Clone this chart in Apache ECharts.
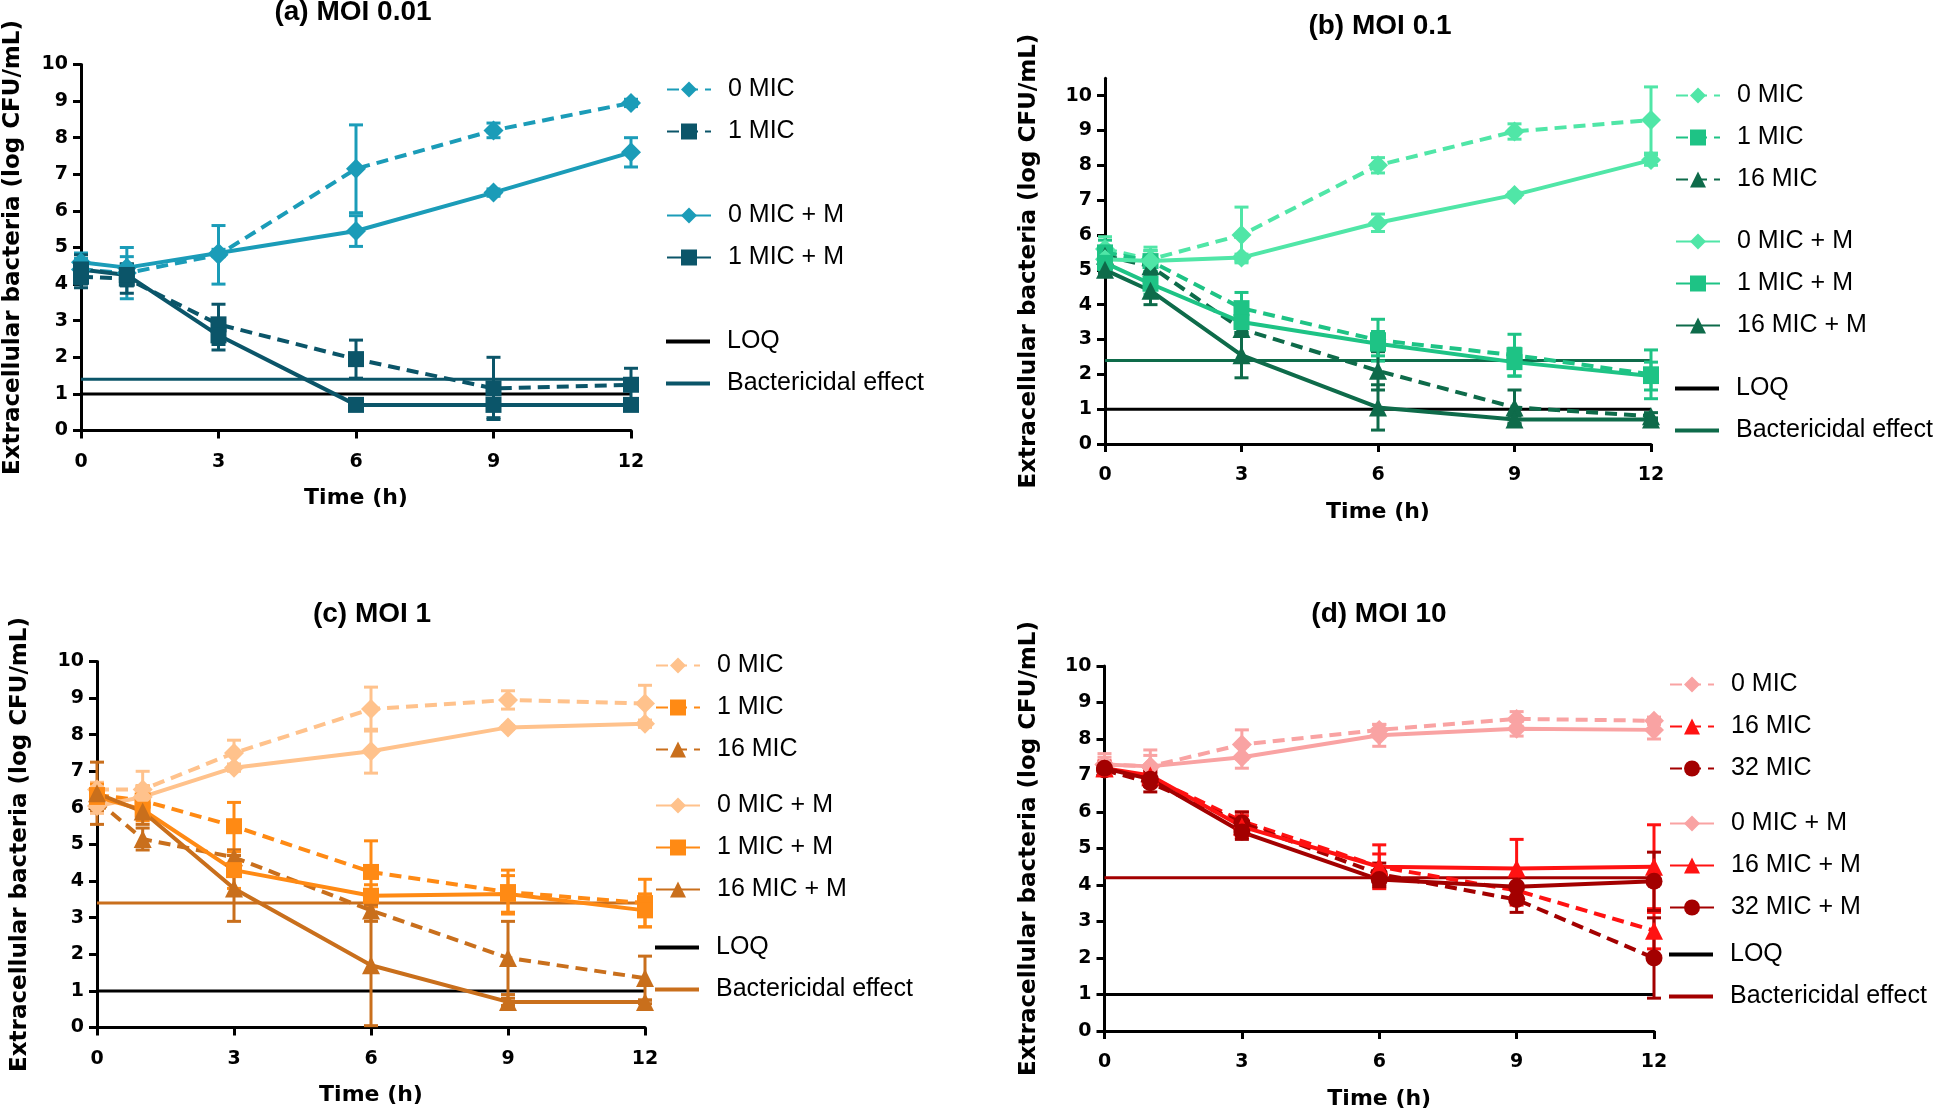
<!DOCTYPE html>
<html>
<head>
<meta charset="utf-8">
<script src="https://cdn.jsdelivr.net/npm/echarts@6/dist/echarts.min.js"></script>
<style>
html,body{margin:0;padding:0;background:#fff;}
#chart{width:1946px;height:1111px;}
</style>
</head>
<body>
<div id="chart"></div>
<script>
// ---------- shared axes ----------
const TIME = [0, 1, 3, 6, 9, 12];
const X_TICKS = [0, 3, 6, 9, 12];
const Y_TICKS = [0, 1, 2, 3, 4, 5, 6, 7, 8, 9, 10];
const LOQ = 1;

// ---------- (a) MOI 0.01 ----------
const A_0MIC      = [4.4, 4.3, 4.8, 7.15, 8.2, 8.95];
const A_0MIC_SD   = [0.3, 0.7, 0.8, 1.2, 0.2, 0.1];
const A_1MIC      = [4.2, 4.15, 2.9, 1.95, 1.15, 1.25];
const A_1MIC_SD   = [0.3, 0.4, 0.55, 0.52, 0.85, 0.45];
const A_0MIC_M    = [4.6, 4.45, 4.85, 5.45, 6.5, 7.6];
const A_0MIC_M_SD = [0.25, 0.3, 0.1, 0.42, 0.1, 0.4];
const A_1MIC_M    = [4.4, 4.25, 2.6, 0.7, 0.7, 0.7];
const A_1MIC_M_SD = [0.4, 0.3, 0.4, 0.0, 0.35, 0.0];
const A_BACT = 1.4;

// ---------- (b) MOI 0.1 ----------
const B_0MIC       = [5.6, 5.3, 6.0, 8.0, 8.97, 9.3];
const B_0MIC_SD    = [0.35, 0.35, 0.8, 0.22, 0.22, 0.95];
const B_1MIC       = [5.5, 5.25, 3.9, 2.98, 2.55, 2.0];
const B_1MIC_SD    = [0.35, 0.3, 0.45, 0.6, 0.6, 0.7];
const B_16MIC      = [5.4, 5.1, 3.3, 2.1, 1.05, 0.8];
const B_16MIC_SD   = [0.2, 0.3, 0.2, 0.55, 0.5, 0.1];
const B_0MIC_M     = [5.3, 5.25, 5.35, 6.35, 7.15, 8.15];
const B_0MIC_M_SD  = [0.3, 0.3, 0.1, 0.25, 0.08, 0.15];
const B_1MIC_M     = [5.2, 4.6, 3.5, 2.88, 2.35, 1.95];
const B_1MIC_M_SD  = [0.2, 0.3, 0.3, 0.35, 0.4, 0.4];
const B_16MIC_M    = [5.0, 4.4, 2.55, 1.05, 0.7, 0.7];
const B_16MIC_M_SD = [0.1, 0.4, 0.65, 0.65, 0.1, 0.05];
const B_BACT = 2.4;

// ---------- (c) MOI 1 ----------
const C_0MIC       = [6.5, 6.5, 7.5, 8.7, 8.95, 8.85];
const C_0MIC_SD    = [0.2, 0.5, 0.35, 0.6, 0.25, 0.5];
const C_1MIC       = [6.35, 6.2, 5.5, 4.25, 3.7, 3.4];
const C_1MIC_SD    = [0.3, 0.4, 0.65, 0.85, 0.6, 0.65];
const C_16MIC      = [6.2, 5.15, 4.65, 3.2, 1.9, 1.35];
const C_16MIC_SD   = [0.3, 0.3, 0.2, 0.3, 1.0, 0.6];
const C_0MIC_M     = [6.05, 6.3, 7.1, 7.55, 8.2, 8.3];
const C_0MIC_M_SD  = [0.2, 0.3, 0.1, 0.6, 0.05, 0.1];
const C_1MIC_M     = [6.3, 5.95, 4.3, 3.6, 3.65, 3.2];
const C_1MIC_M_SD  = [0.2, 0.3, 0.5, 0.3, 0.5, 0.45];
const C_16MIC_M    = [6.4, 5.9, 3.8, 1.7, 0.7, 0.7];
const C_16MIC_M_SD = [0.85, 0.35, 0.9, 1.65, 0.1, 0.05];
const C_BACT = 3.4;

// ---------- (d) MOI 10 ----------
const D_0MIC       = [7.3, 7.25, 7.85, 8.25, 8.55, 8.5];
const D_0MIC_SD    = [0.3, 0.45, 0.4, 0.15, 0.2, 0.1];
const D_16MIC      = [7.2, 6.95, 5.75, 4.5, 3.85, 2.75];
const D_16MIC_SD   = [0.2, 0.2, 0.25, 0.35, 0.4, 0.5];
const D_32MIC      = [7.15, 6.8, 5.7, 4.3, 3.6, 2.0];
const D_32MIC_SD   = [0.15, 0.25, 0.3, 0.3, 0.35, 1.1];
const D_0MIC_M     = [7.3, 7.25, 7.5, 8.1, 8.28, 8.25];
const D_0MIC_M_SD  = [0.2, 0.3, 0.3, 0.3, 0.2, 0.25];
const D_16MIC_M    = [7.2, 7.0, 5.6, 4.5, 4.45, 4.5];
const D_16MIC_M_SD = [0.15, 0.2, 0.3, 0.6, 0.8, 1.15];
const D_32MIC_M    = [7.2, 6.9, 5.45, 4.15, 3.95, 4.1];
const D_32MIC_M_SD = [0.1, 0.2, 0.2, 0.2, 0.3, 0.8];
const D_BACT = 4.2;

// ---------- styling / layout ----------
const BOLD_FONT = 'DejaVu Sans';
const TEXT_FONT = 'Liberation Sans';
const LINE_ICON = 'path://M0,0H44V4H0Z';

const COL = {
  aL: '#1b9cb8', aD: '#0b5569',
  bL: '#50e6a7', bM: '#1ec385', bD: '#0e6b4a',
  cL: '#ffc28c', cM: '#ff8a14', cD: '#c96f1c',
  dL: '#f9a3a3', dM: '#ff1212', dD: '#a30000'
};

const PANELS = [
  { key: 'a', title: '(a) MOI 0.01', tx: 353, ty: 12,
    grid: { left: 81, top: 64.5, width: 550, height: 366 }, ymax: 10, nameGapY: 56,
    bact: A_BACT, bactColor: COL.aD,
    legendLeft: 666, legendTops: [77, 203, 329],
    groups: [
      [ { n: '0 MIC', y: A_0MIC, sd: A_0MIC_SD, c: COL.aL, dash: true, s: 'diamond' },
        { n: '1 MIC', y: A_1MIC, sd: A_1MIC_SD, c: COL.aD, dash: true, s: 'rect' } ],
      [ { n: '0 MIC + M', y: A_0MIC_M, sd: A_0MIC_M_SD, c: COL.aL, dash: false, s: 'diamond' },
        { n: '1 MIC + M', y: A_1MIC_M, sd: A_1MIC_M_SD, c: COL.aD, dash: false, s: 'rect' } ]
    ] },
  { key: 'b', title: '(b) MOI 0.1', tx: 1380, ty: 26,
    grid: { left: 1105, top: 78.2, width: 546, height: 365.8 }, ymax: 10.5, nameGapY: 64,
    bact: B_BACT, bactColor: COL.bD,
    legendLeft: 1675, legendTops: [83, 229, 376],
    groups: [
      [ { n: '0 MIC', y: B_0MIC, sd: B_0MIC_SD, c: COL.bL, dash: true, s: 'diamond' },
        { n: '1 MIC', y: B_1MIC, sd: B_1MIC_SD, c: COL.bM, dash: true, s: 'rect' },
        { n: '16 MIC', y: B_16MIC, sd: B_16MIC_SD, c: COL.bD, dash: true, s: 'triangle' } ],
      [ { n: '0 MIC + M', y: B_0MIC_M, sd: B_0MIC_M_SD, c: COL.bL, dash: false, s: 'diamond' },
        { n: '1 MIC + M', y: B_1MIC_M, sd: B_1MIC_M_SD, c: COL.bM, dash: false, s: 'rect' },
        { n: '16 MIC + M', y: B_16MIC_M, sd: B_16MIC_M_SD, c: COL.bD, dash: false, s: 'triangle' } ]
    ] },
  { key: 'c', title: '(c) MOI 1', tx: 372, ty: 614,
    grid: { left: 97, top: 661.5, width: 548, height: 366 }, ymax: 10, nameGapY: 65,
    bact: C_BACT, bactColor: COL.cD,
    legendLeft: 655, legendTops: [653, 793, 935],
    groups: [
      [ { n: '0 MIC', y: C_0MIC, sd: C_0MIC_SD, c: COL.cL, dash: true, s: 'diamond' },
        { n: '1 MIC', y: C_1MIC, sd: C_1MIC_SD, c: COL.cM, dash: true, s: 'rect' },
        { n: '16 MIC', y: C_16MIC, sd: C_16MIC_SD, c: COL.cD, dash: true, s: 'triangle' } ],
      [ { n: '0 MIC + M', y: C_0MIC_M, sd: C_0MIC_M_SD, c: COL.cL, dash: false, s: 'diamond' },
        { n: '1 MIC + M', y: C_1MIC_M, sd: C_1MIC_M_SD, c: COL.cM, dash: false, s: 'rect' },
        { n: '16 MIC + M', y: C_16MIC_M, sd: C_16MIC_M_SD, c: COL.cD, dash: false, s: 'triangle' } ]
    ] },
  { key: 'd', title: '(d) MOI 10', tx: 1379, ty: 614,
    grid: { left: 1104.5, top: 666, width: 549.5, height: 366.5 }, ymax: 10, nameGapY: 64,
    bact: D_BACT, bactColor: COL.dD,
    legendLeft: 1669, legendTops: [672, 811, 942],
    groups: [
      [ { n: '0 MIC', y: D_0MIC, sd: D_0MIC_SD, c: COL.dL, dash: true, s: 'diamond' },
        { n: '16 MIC', y: D_16MIC, sd: D_16MIC_SD, c: COL.dM, dash: true, s: 'triangle' },
        { n: '32 MIC', y: D_32MIC, sd: D_32MIC_SD, c: COL.dD, dash: true, s: 'circle' } ],
      [ { n: '0 MIC + M', y: D_0MIC_M, sd: D_0MIC_M_SD, c: COL.dL, dash: false, s: 'diamond' },
        { n: '16 MIC + M', y: D_16MIC_M, sd: D_16MIC_M_SD, c: COL.dM, dash: false, s: 'triangle' },
        { n: '32 MIC + M', y: D_32MIC_M, sd: D_32MIC_M_SD, c: COL.dD, dash: false, s: 'circle' } ]
    ] }
];

const SYMBOL_SIZE = { diamond: 20, rect: 16, triangle: 18, circle: 17 };

function errRender(params, api) {
  const x = api.value(0), lo = api.value(1), hi = api.value(2);
  const p1 = api.coord([x, lo]);
  const p2 = api.coord([x, hi]);
  const w = 7;
  const style = { stroke: api.visual('color'), lineWidth: 3, fill: null };
  return {
    type: 'group',
    children: [
      { type: 'line', shape: { x1: p1[0], y1: p1[1], x2: p2[0], y2: p2[1] }, style },
      { type: 'line', shape: { x1: p1[0] - w, y1: p1[1], x2: p1[0] + w, y2: p1[1] }, style },
      { type: 'line', shape: { x1: p2[0] - w, y1: p2[1], x2: p2[0] + w, y2: p2[1] }, style }
    ]
  };
}

const grids = [], xAxes = [], yAxes = [], series = [], legends = [], graphics = [];

function legendCfg(left, top, data) {
  return {
    orient: 'vertical', left, top, padding: 0,
    itemWidth: 44, itemHeight: 20, itemGap: 17, selectedMode: false,
    data, formatter: n => n.split('|')[0],
    textStyle: { fontFamily: TEXT_FONT, fontSize: 25, color: '#000', padding: [0, 0, 0, 12] }
  };
}

PANELS.forEach((P, gi) => {
  grids.push(Object.assign({ containLabel: false }, P.grid));
  xAxes.push({
    type: 'value', gridIndex: gi, min: 0, max: 12, interval: 3,
    axisLine: { show: true, onZero: false, lineStyle: { color: '#000', width: 3 } },
    axisTick: { show: true, length: 8, customValues: X_TICKS, lineStyle: { color: '#000', width: 3 } },
    axisLabel: { customValues: X_TICKS, fontFamily: BOLD_FONT, fontWeight: 'bold', fontSize: 19, color: '#000', margin: 22 },
    splitLine: { show: false },
    name: 'Time (h)', nameLocation: 'middle', nameGap: 57,
    nameTextStyle: { fontFamily: BOLD_FONT, fontWeight: 'bold', fontSize: 22, color: '#000' }
  });
  yAxes.push({
    type: 'value', gridIndex: gi, min: 0, max: P.ymax, interval: 1,
    axisLine: { show: true, onZero: false, lineStyle: { color: '#000', width: 3 } },
    axisTick: { show: true, length: 8, customValues: Y_TICKS, lineStyle: { color: '#000', width: 3 } },
    axisLabel: { customValues: Y_TICKS, fontFamily: BOLD_FONT, fontWeight: 'bold', fontSize: 19, color: '#000', margin: 13 },
    splitLine: { show: false },
    name: 'Extracellular bacteria (log CFU/mL)', nameLocation: 'middle', nameGap: P.nameGapY, nameRotate: 90,
    nameTextStyle: { fontFamily: BOLD_FONT, fontWeight: 'bold', fontSize: 23, color: '#000' }
  });

  // reference lines
  const loqName = 'LOQ|' + P.key;
  const bactName = 'Bactericidal effect|' + P.key;
  series.push({
    type: 'line', name: loqName, xAxisIndex: gi, yAxisIndex: gi,
    data: [[0, LOQ], [12, LOQ]], symbol: 'none', silent: true, z: 1,
    lineStyle: { color: '#000', width: 3 }, itemStyle: { color: '#000' }
  });
  series.push({
    type: 'line', name: bactName, xAxisIndex: gi, yAxisIndex: gi,
    data: [[0, P.bact], [12, P.bact]], symbol: 'none', silent: true, z: 1,
    lineStyle: { color: P.bactColor, width: 3 }, itemStyle: { color: P.bactColor }
  });

  P.groups.forEach((grp, k) => {
    grp.forEach(s => {
      const nm = s.n + '|' + P.key;
      series.push({
        type: 'custom', name: nm + '|err', xAxisIndex: gi, yAxisIndex: gi,
        renderItem: errRender, encode: { x: 0, y: [1, 2] }, silent: true, z: 2,
        itemStyle: { color: s.c },
        data: TIME.map((t, i) => [t, Math.max(0, s.y[i] - s.sd[i]), s.y[i] + s.sd[i]])
      });
      series.push({
        type: 'line', name: nm, xAxisIndex: gi, yAxisIndex: gi,
        data: TIME.map((t, i) => [t, s.y[i]]),
        symbol: s.s, symbolSize: SYMBOL_SIZE[s.s], showSymbol: true, z: 3,
        lineStyle: { color: s.c, width: 4, type: s.dash ? [12, 7] : 'solid' },
        itemStyle: { color: s.c }
      });
    });
    legends.push(legendCfg(P.legendLeft, P.legendTops[k], grp.map(s => s.n + '|' + P.key)));
  });
  legends.push(legendCfg(P.legendLeft, P.legendTops[2], [
    { name: loqName, icon: LINE_ICON },
    { name: bactName, icon: LINE_ICON }
  ]));

  graphics.push({
    type: 'text', x: P.tx, y: P.ty,
    style: { text: P.title, fontFamily: TEXT_FONT, fontWeight: 'bold', fontSize: 28, fill: '#000',
             textAlign: 'center', textVerticalAlign: 'middle' }
  });
});

const chart = echarts.init(document.getElementById('chart'), null, { renderer: 'canvas' });
chart.setOption({
  animation: false,
  backgroundColor: '#fff',
  grid: grids,
  xAxis: xAxes,
  yAxis: yAxes,
  legend: legends,
  series: series,
  graphic: graphics
});
</script>
</body>
</html>
